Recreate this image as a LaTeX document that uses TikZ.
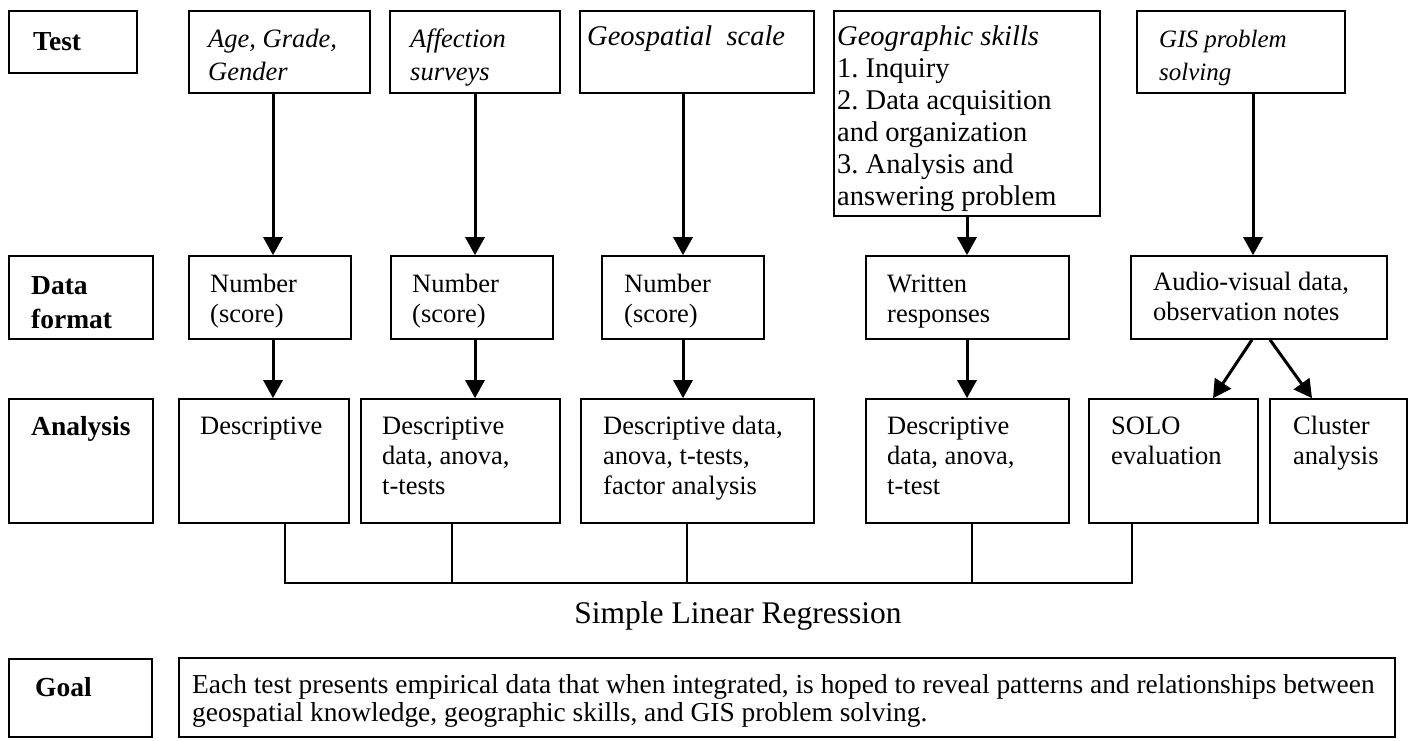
\documentclass[tikz,border=0pt]{standalone}
\usepackage{fontspec}
\setmainfont{Liberation Serif}
\usetikzlibrary{arrows.meta,fit}
\newcommand\fl{\rule{0pt}{24pt}}
\frenchspacing
\begin{document}
\begin{tikzpicture}[x=1pt,y=-1pt,
  box/.style={draw, line width=1.6pt, inner sep=0pt, fit={#1}},
  txt/.style={anchor=north west, inner sep=0pt, align=left, font=\fontsize{26.5}{30}\selectfont},
  itxt/.style={txt, font=\fontsize{26.5}{33}\selectfont\itshape},
  lab/.style={anchor=north west, inner sep=0pt, align=left, font=\fontsize{27.5}{34}\selectfont\bfseries},
  arr/.style={line width=3pt, -{Triangle[length=18pt,width=19pt]}},
  conn/.style={line width=1.5pt},
]
\useasboundingbox (0,0) rectangle (1411,741);

% row labels
\node[box={(9,11) (137,73)}] (ltest) {};
\node[box={(9,256) (153,339)}] (lformat) {};
\node[box={(9,399) (153,523)}] (lanalysis) {};
\node[box={(9,659) (152,737)}] (lgoal) {};
\node[lab] (tltest) at (33,26) {\fl Test};
\node[lab] (tlformat) at (31,270) {\fl Data\\format};
\node[lab] (tlanalysis) at (31,411) {\fl Analysis};
\node[lab] (tlgoal) at (35,672) {\fl Goal};

% row 1: tests
\node[box={(189,11) (370,93)}] (age) {};
\node[box={(390,11) (560,93)}] (aff) {};
\node[box={(580,11) (814,93)}] (geo) {};
\node[box={(834,11) (1100,216)}] (gsk) {};
\node[box={(1137,11) (1345,93)}] (gis) {};
\node[itxt] (tage) at (208,23) {\fl Age, Grade,\\Gender};
\node[itxt] (taff) at (410,23) {\fl Affection\\surveys};
\node[itxt, font=\fontsize{28.5}{33}\selectfont\itshape] (tgeo) at (587,21) {\fl Geospatial\ \ scale};
\node[txt, font=\fontsize{28.5}{32}\selectfont] (tgsk) at (837,21)
  {\fl\textit{Geographic skills}\\1. Inquiry\\2. Data acquisition\\and organization\\3. Analysis and\\answering problem};
\node[itxt, font=\fontsize{25}{33}\selectfont\itshape] (tgis) at (1159,23) {\fl GIS problem\\solving};

% row 2: data format
\node[box={(189,256) (351,339)}] (n1) {};
\node[box={(391,256) (553,339)}] (n2) {};
\node[box={(602,256) (764,339)}] (n3) {};
\node[box={(866,256) (1069,339)}] (wr) {};
\node[box={(1131,256) (1387,339)}] (av) {};
\node[txt] (tn1) at (210,268) {\fl Number\\(score)};
\node[txt] (tn2) at (412,268) {\fl Number\\(score)};
\node[txt] (tn3) at (624,268) {\fl Number\\(score)};
\node[txt] (twr) at (887,268) {\fl Written\\responses};
\node[txt] (tav) at (1153,266) {\fl Audio-visual data,\\observation notes};

% row 3: analysis
\node[box={(179,399) (349,523)}] (d1) {};
\node[box={(361,399) (560,523)}] (d2) {};
\node[box={(581,399) (814,523)}] (d3) {};
\node[box={(866,399) (1069,523)}] (d4) {};
\node[box={(1089,399) (1258,523)}] (solo) {};
\node[box={(1270,399) (1407,523)}] (cl) {};
\node[txt] (td1) at (200,410) {\fl Descriptive};
\node[txt] (td2) at (382,410) {\fl Descriptive\\data, anova,\\t-tests};
\node[txt] (td3) at (603,410) {\fl Descriptive data,\\anova, t-tests,\\factor analysis};
\node[txt] (td4) at (887,410) {\fl Descriptive\\data, anova,\\t-test};
\node[txt] (tsolo) at (1111,410) {\fl SOLO\\evaluation};
\node[txt] (tcl) at (1293,410) {\fl Cluster\\analysis};

% goal
\node[box={(179,658) (1395,737)}] (goal) {};
\node[txt, font=\fontsize{27.4}{28.5}\selectfont] (tgoal) at (192,669)
  {\fl Each test presents empirical data that when integrated, is hoped to reveal patterns and relationships between\\geospatial knowledge, geographic skills, and GIS problem solving.};

% regression label
\node[anchor=base, inner sep=0pt, font=\fontsize{31.5}{36}\selectfont] (slr) at (738,623) {Simple Linear Regression};

% arrows row 1 -> row 2
\draw[arr] ([xshift=-6.5pt]age.south) -- ([xshift=3pt]n1.north);
\draw[arr] (aff.south) -- ([xshift=3pt]n2.north);
\draw[arr] ([xshift=-14pt]geo.south) -- (n3.north);
\draw[arr] (gsk.south) -- ([xshift=-0.5pt]wr.north);
\draw[arr] ([xshift=12pt]gis.south) -- ([xshift=-6pt]av.north);

% arrows row 2 -> row 3
\draw[arr] ([xshift=3pt]n1.south) -- ([xshift=9pt]d1.north);
\draw[arr] ([xshift=3pt]n2.south) -- ([xshift=14.5pt]d2.north);
\draw[arr] (n3.south) -- ([xshift=-14.5pt]d3.north);
\draw[arr] ([xshift=-0.5pt]wr.south) -- ([xshift=-0.5pt]d4.north);
\draw[arr] ([xshift=-7pt]av.south) -- ([xshift=39.5pt]solo.north);
\draw[arr] ([xshift=11pt]av.south) -- ([xshift=-26.5pt]cl.north);

% connectors to regression bus
\coordinate (busL) at (285,583);
\coordinate (busR) at (1132,583);
\draw[conn] ([xshift=21pt]d1.south) |- (busR) -- ([xshift=-41.5pt]solo.south);
\draw[conn] ([xshift=-8.5pt]d2.south) -- ([xshift=-8.5pt]d2.south |- busL);
\draw[conn] ([xshift=-10.5pt]d3.south) -- ([xshift=-10.5pt]d3.south |- busL);
\draw[conn] ([xshift=4.5pt]d4.south) -- ([xshift=4.5pt]d4.south |- busL);
\end{tikzpicture}
\end{document}
